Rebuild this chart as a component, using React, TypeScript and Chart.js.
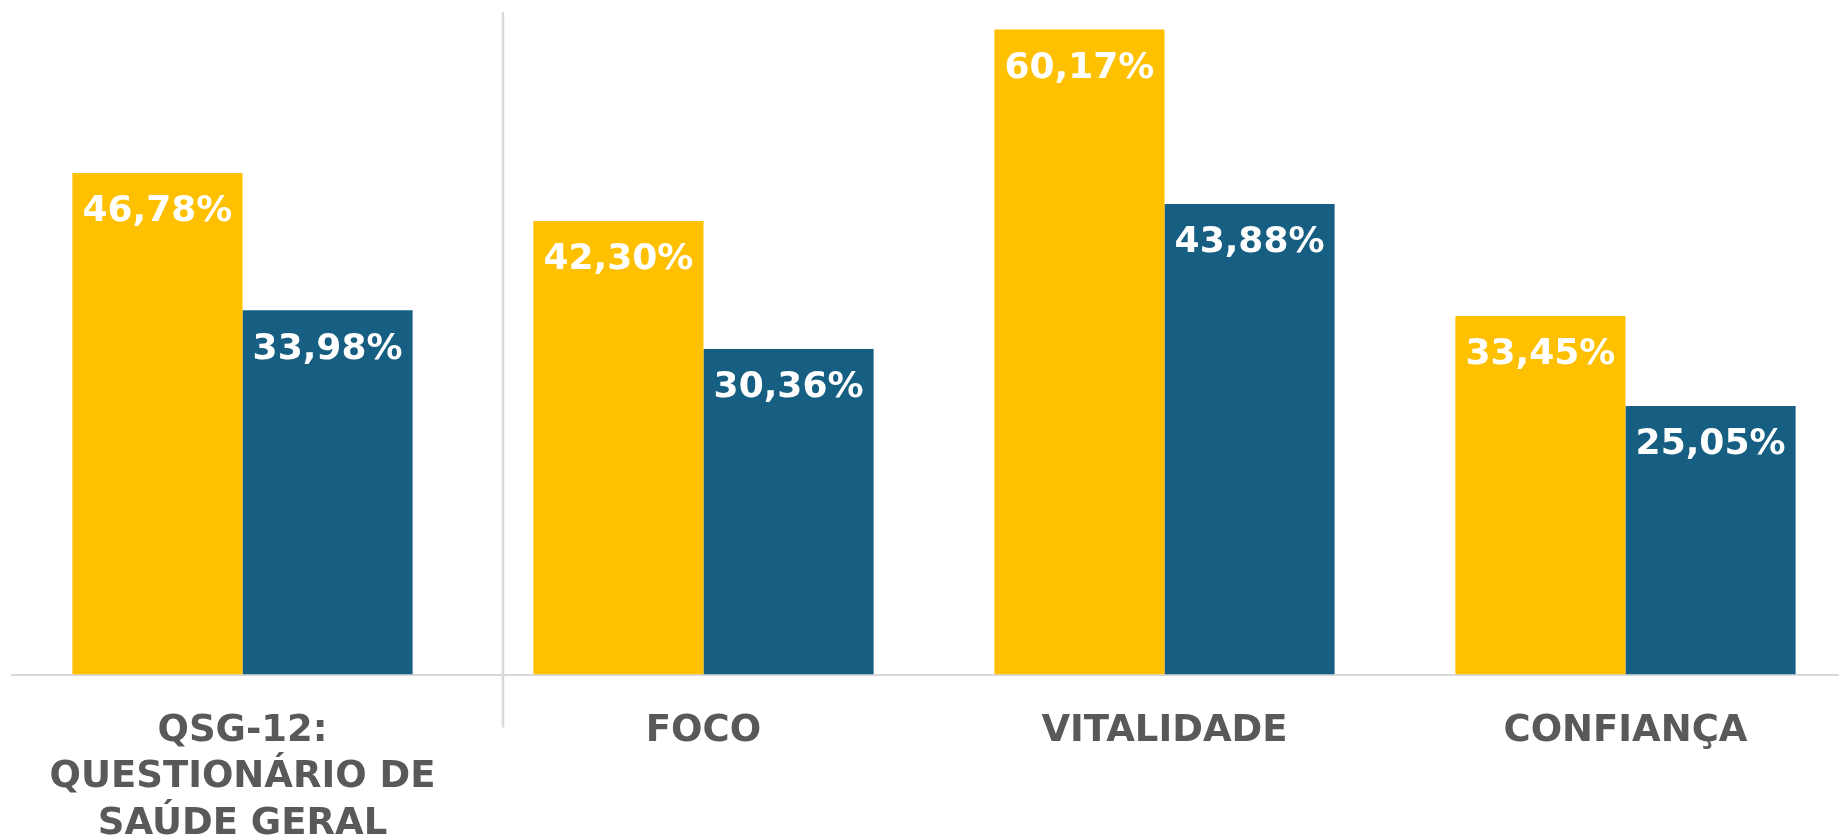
import React, { useEffect, useRef } from "react";
import { Chart, registerables } from "chart.js";

Chart.register(...registerables);

const categories: (string | string[])[] = [
  ["QSG-12:", "QUESTIONÁRIO DE", "SAÚDE GERAL"],
  "FOCO",
  "VITALIDADE",
  "CONFIANÇA",
];
const seriesYellow = [46.78, 42.3, 60.17, 33.45];
const seriesBlue = [33.98, 30.36, 43.88, 25.05];

const YELLOW = "#FFC000";
const BLUE = "#175F82";
const GRID = "#D9D9D9";
const LABEL_GREY = "#595959";
const FONT = "'DejaVu Sans', sans-serif";
const SEPARATOR_AT = 0.565; // position in category units

const fmt = (v: number) => v.toFixed(2).replace(".", ",") + "%";

const dataLabels = {
  id: "dataLabels",
  afterDatasetsDraw(chart: any) {
    const { ctx } = chart;
    ctx.save();
    ctx.fillStyle = "#FFFFFF";
    ctx.font = `bold 36px ${FONT}`;
    ctx.textAlign = "center";
    ctx.textBaseline = "middle";
    chart.data.datasets.forEach((ds: any, di: number) => {
      const meta = chart.getDatasetMeta(di);
      meta.data.forEach((el: any, i: number) => {
        ctx.fillText(fmt(ds.data[i]), el.x, el.y + 39);
      });
    });
    ctx.restore();
  },
};

const separator = {
  id: "separator",
  afterDraw(chart: any) {
    const { ctx, chartArea } = chart;
    const x = chart.scales.x.getPixelForValue(SEPARATOR_AT);
    ctx.save();
    ctx.strokeStyle = GRID;
    ctx.lineWidth = 2.5;
    ctx.beginPath();
    ctx.moveTo(x, chartArea.top);
    ctx.lineTo(x, chartArea.bottom + 53);
    ctx.stroke();
    ctx.restore();
  },
};

export default function App() {
  const ref = useRef<HTMLCanvasElement | null>(null);
  useEffect(() => {
    if (!ref.current) return;
    const chart = new Chart(ref.current, {
      type: "bar",
      data: {
        labels: categories,
        datasets: [
          {
            data: seriesYellow,
            backgroundColor: YELLOW,
            borderWidth: 0,
            categoryPercentage: 0.738,
            barPercentage: 1.0,
          },
          {
            data: seriesBlue,
            backgroundColor: BLUE,
            borderWidth: 0,
            categoryPercentage: 0.738,
            barPercentage: 1.0,
          },
        ],
      },
      options: {
        responsive: false,
        animation: false,
        layout: { padding: { left: 12, right: 14, top: 12, bottom: 0 } },
        plugins: {
          legend: { display: false },
          tooltip: { enabled: false },
        },
        scales: {
          x: {
            offset: true,
            grid: { display: false, drawTicks: false, tickLength: 0 },
            border: { display: true, color: GRID, width: 2 },
            ticks: {
              color: LABEL_GREY,
              font: { family: FONT, size: 37, weight: "bold", lineHeight: 1.25 },
              padding: 34,
              maxRotation: 0,
              autoSkip: false,
            },
            afterFit: (scale: any) => {
              scale.height = 160.5;
            },
          },
          y: {
            display: false,
            min: 0,
            max: 61.8,
            grid: { display: false },
          },
        },
      },
      plugins: [dataLabels, separator],
    } as any);
    return () => chart.destroy();
  }, []);
  return (
    <div
      style={{
        position: "absolute",
        left: 0,
        top: 0,
        width: 1839,
        height: 835,
        overflow: "hidden",
        background: "#FFFFFF",
      }}
    >
      <canvas ref={ref} width={1870} height={835} style={{ display: "block", width: 1870, height: 835 }} />
    </div>
  );
}
